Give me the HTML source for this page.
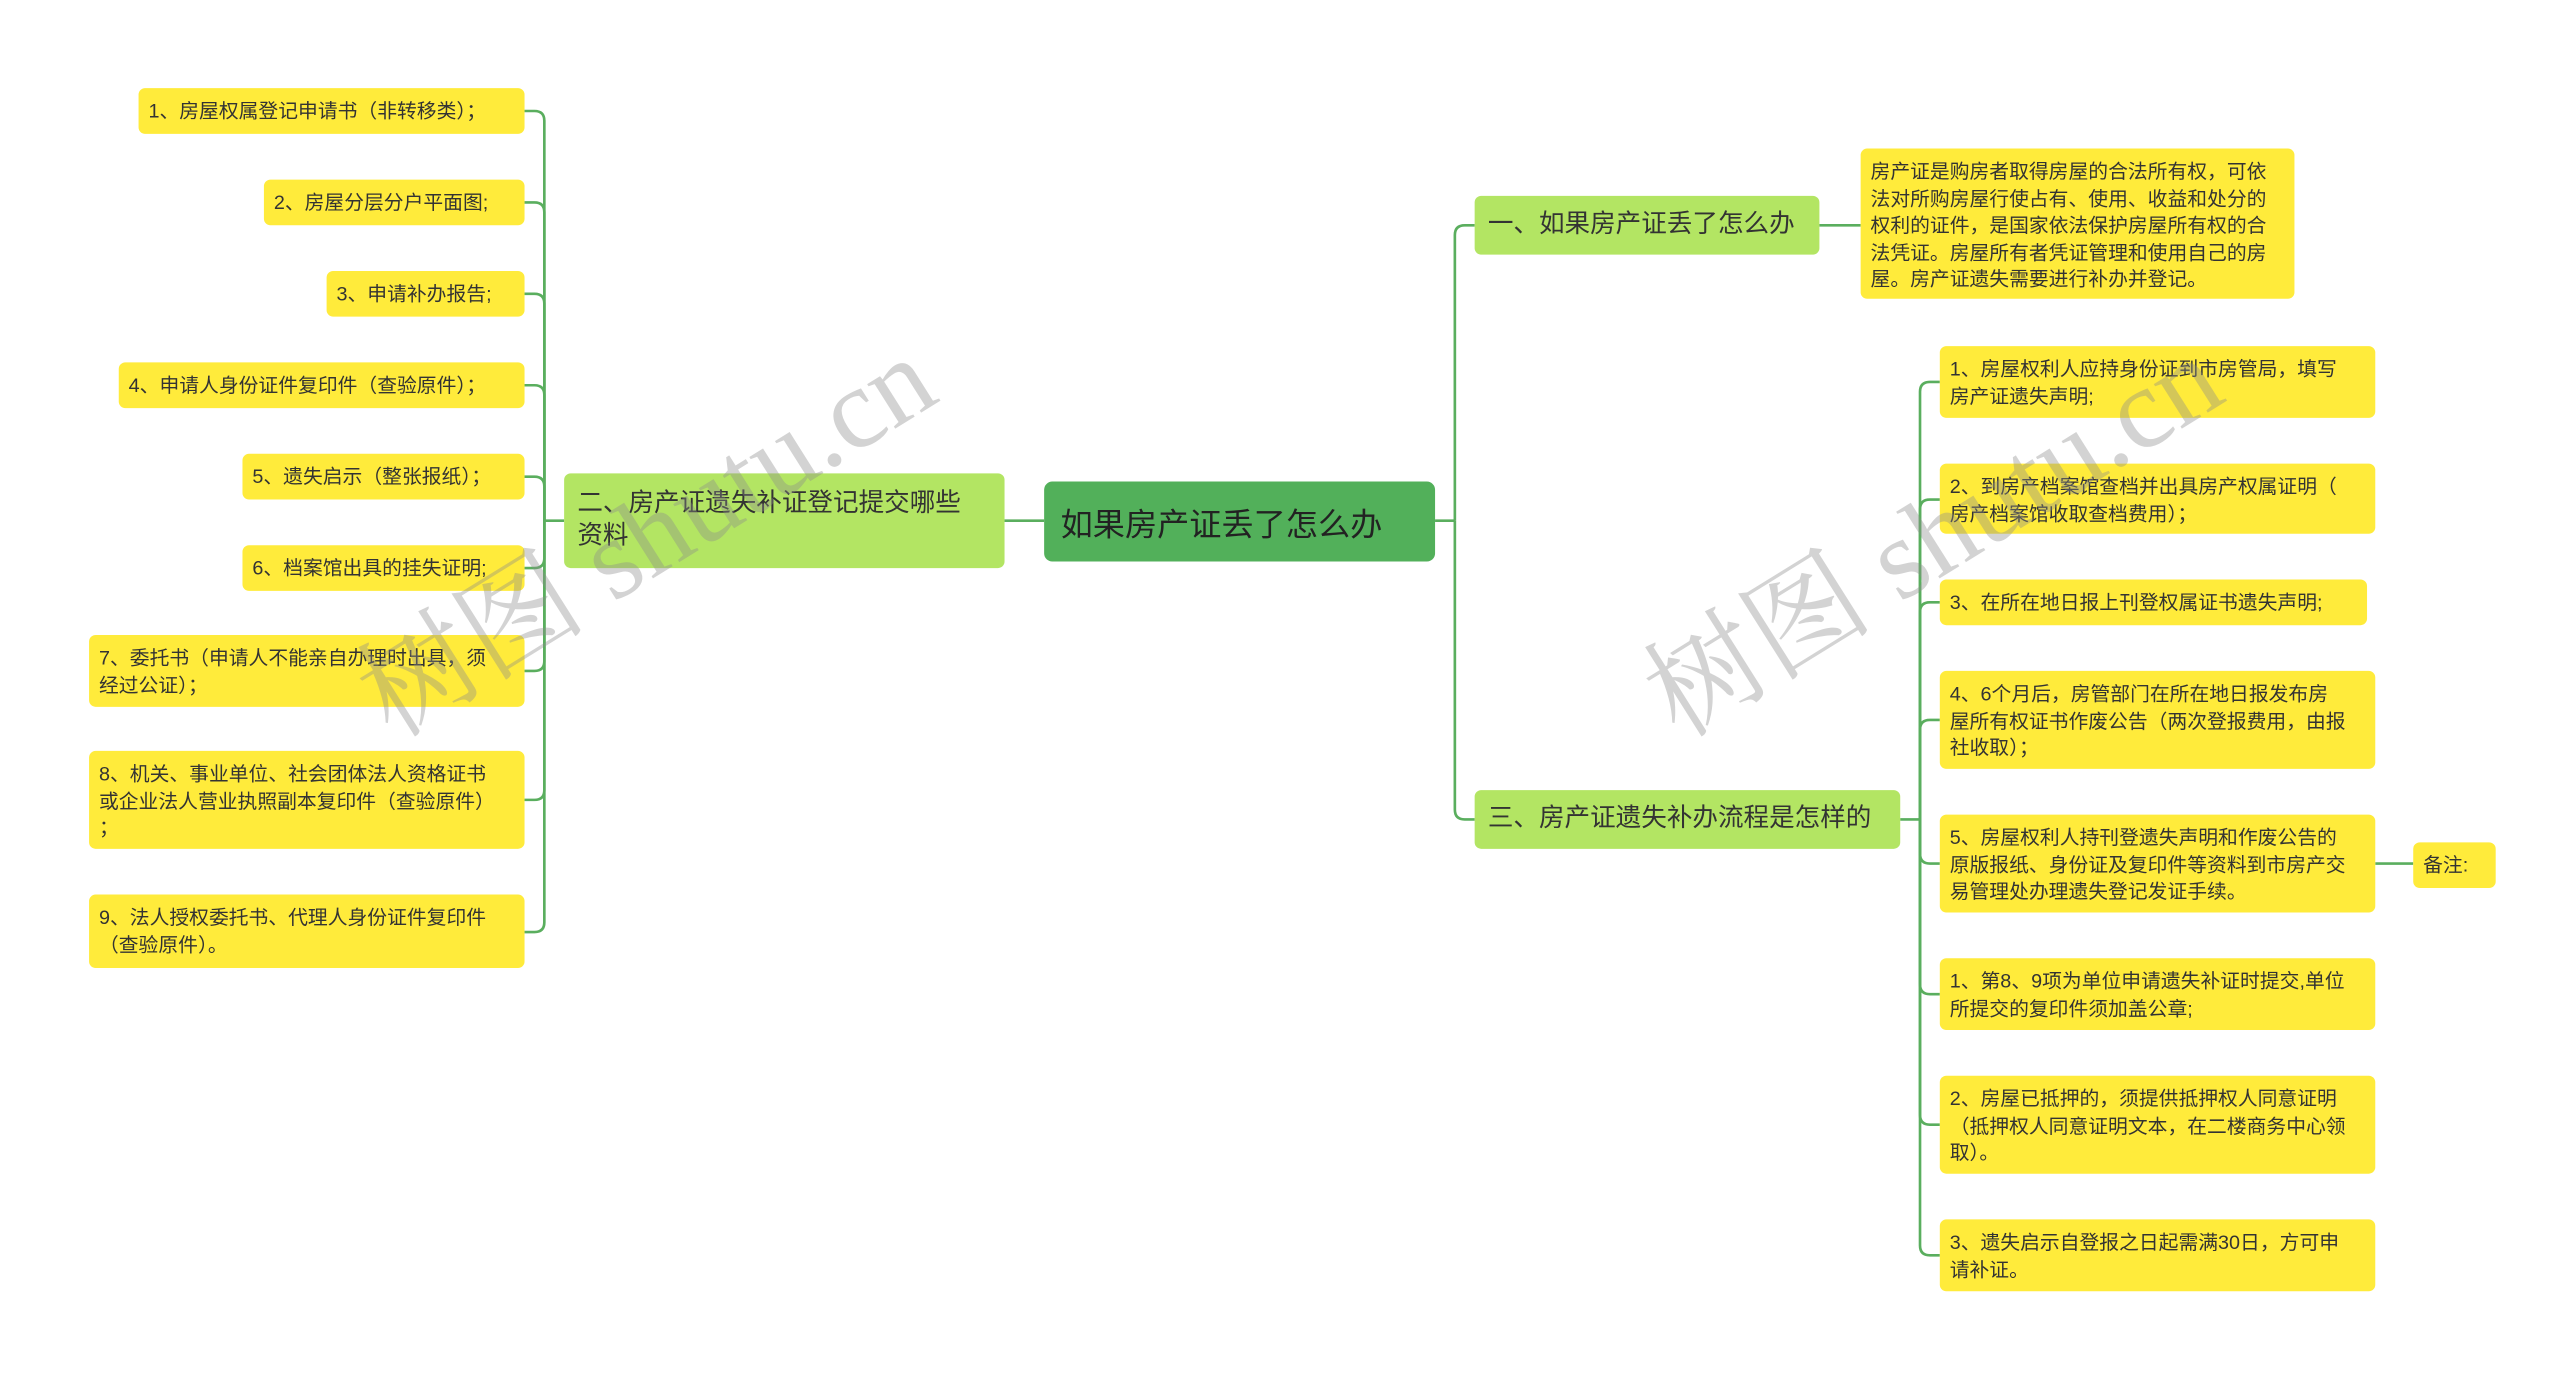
<!DOCTYPE html>
<html><head><meta charset="utf-8"><style>
html,body{margin:0;padding:0;background:#fff;overflow:hidden;width:2560px;height:1381px}
#clip{position:absolute;left:0;top:0;width:2560px;height:1381px;overflow:hidden}
#w{position:absolute;left:0;top:0;width:1552px;height:846px;overflow:hidden;transform-origin:0 0;transform:scale(1.6495,1.6324)}
.b{position:absolute;box-sizing:border-box;border-radius:4px;font-family:"Liberation Sans","Noto Sans CJK SC",sans-serif;color:#333;white-space:nowrap}
.y{background:#ffeb3b;font-size:12px;line-height:16.5px;padding:6px 6px}
.s{display:flex;align-items:center}
.g{background:#b3e563;font-size:15.5px;line-height:20px;padding:0 8px}
</style></head><body><div id="clip"><div id="w">
<svg width="1552" height="846" style="position:absolute;left:0;top:0" fill="none" stroke="#5aae5e" stroke-width="1.6">
<path d="M609,319 L633,319"/>
<g>
<path d="M342,319 L330,319"/>
<path d="M330,319 L330,74 Q330,68 324,68 L318,68"/>
<path d="M330,319 L330,130 Q330,124 324,124 L318,124"/>
<path d="M330,319 L330,186 Q330,180 324,180 L318,180"/>
<path d="M330,319 L330,242 Q330,236 324,236 L318,236"/>
<path d="M330,319 L330,298 Q330,292 324,292 L318,292"/>
<path d="M330,319 L330,342 Q330,348 324,348 L318,348"/>
<path d="M330,319 L330,405 Q330,411 324,411 L318,411"/>
<path d="M330,319 L330,484 Q330,490 324,490 L318,490"/>
<path d="M330,319 L330,565 Q330,571 324,571 L318,571"/>
</g>
<path d="M870,319 L882,319"/>
<path d="M882,319 L882,144 Q882,138 888,138 L894,138"/>
<path d="M882,319 L882,496 Q882,502 888,502 L894,502"/>
<path d="M1103,138 L1128,138"/>
<path d="M1152,502 L1164,502"/>
<path d="M1164,502 L1164,240 Q1164,234 1170,234 L1176,234"/>
<path d="M1164,502 L1164,312 Q1164,306 1170,306 L1176,306"/>
<path d="M1164,502 L1164,375 Q1164,369 1170,369 L1176,369"/>
<path d="M1164,502 L1164,447 Q1164,441 1170,441 L1176,441"/>
<path d="M1164,502 L1164,523 Q1164,529 1170,529 L1176,529"/>
<path d="M1164,502 L1164,603 Q1164,609 1170,609 L1176,609"/>
<path d="M1164,502 L1164,683 Q1164,689 1170,689 L1176,689"/>
<path d="M1164,502 L1164,763 Q1164,769 1170,769 L1176,769"/>
<path d="M1440,529 L1463,529"/>
</svg>

<div class="b s" style="left:633px;top:295px;width:237px;height:49px;background:#52b05a;color:#222;font-size:19.5px;padding-left:10px;border-radius:5px">如果房产证丢了怎么办</div>
<div class="b g s" style="left:342px;top:290px;width:267px;height:58px">二、房产证遗失补证登记提交哪些<br>资料</div>
<div class="b g s" style="left:894px;top:120px;width:209px;height:36px">一、如果房产证丢了怎么办</div>
<div class="b g s" style="left:894px;top:484px;width:258px;height:36px">三、房产证遗失补办流程是怎样的</div>

<div class="b y s" style="left:84px;top:54px;width:234px;height:28px">1、房屋权属登记申请书（非转移类）；</div>
<div class="b y s" style="left:160px;top:110px;width:158px;height:28px">2、房屋分层分户平面图;</div>
<div class="b y s" style="left:198px;top:166px;width:120px;height:28px">3、申请补办报告;</div>
<div class="b y s" style="left:72px;top:222px;width:246px;height:28px">4、申请人身份证件复印件（查验原件）；</div>
<div class="b y s" style="left:147px;top:278px;width:171px;height:28px">5、遗失启示（整张报纸）；</div>
<div class="b y s" style="left:147px;top:334px;width:171px;height:28px">6、档案馆出具的挂失证明;</div>
<div class="b y" style="left:54px;top:389px;width:264px;height:44px">7、委托书（申请人不能亲自办理时出具，须<br>经过公证）；</div>
<div class="b y" style="left:54px;top:460px;width:264px;height:60px">8、机关、事业单位、社会团体法人资格证书<br>或企业法人营业执照副本复印件（查验原件）<br>；</div>
<div class="b y" style="left:54px;top:548px;width:264px;height:45px">9、法人授权委托书、代理人身份证件复印件<br>（查验原件）。</div>

<div class="b y" style="left:1128px;top:91px;width:263px;height:92px">房产证是购房者取得房屋的合法所有权，可依<br>法对所购房屋行使占有、使用、收益和处分的<br>权利的证件，是国家依法保护房屋所有权的合<br>法凭证。房屋所有者凭证管理和使用自己的房<br>屋。房产证遗失需要进行补办并登记。</div>

<div class="b y" style="left:1176px;top:212px;width:264px;height:44px">1、房屋权利人应持身份证到市房管局，填写<br>房产证遗失声明;</div>
<div class="b y" style="left:1176px;top:284px;width:264px;height:43px">2、到房产档案馆查档并出具房产权属证明（<br>房产档案馆收取查档费用）；</div>
<div class="b y s" style="left:1176px;top:355px;width:259px;height:28px">3、在所在地日报上刊登权属证书遗失声明;</div>
<div class="b y" style="left:1176px;top:411px;width:264px;height:60px">4、6个月后，房管部门在所在地日报发布房<br>屋所有权证书作废公告（两次登报费用，由报<br>社收取）；</div>
<div class="b y" style="left:1176px;top:499px;width:264px;height:60px">5、房屋权利人持刊登遗失声明和作废公告的<br>原版报纸、身份证及复印件等资料到市房产交<br>易管理处办理遗失登记发证手续。</div>
<div class="b y s" style="left:1463px;top:516px;width:50px;height:28px">备注:</div>
<div class="b y" style="left:1176px;top:587px;width:264px;height:44px">1、第8、9项为单位申请遗失补证时提交,单位<br>所提交的复印件须加盖公章;</div>
<div class="b y" style="left:1176px;top:659px;width:264px;height:60px">2、房屋已抵押的，须提供抵押权人同意证明<br>（抵押权人同意证明文本，在二楼商务中心领<br>取）。</div>
<div class="b y" style="left:1176px;top:747px;width:264px;height:44px">3、遗失启示自登报之日起需满30日，方可申<br>请补证。</div>

<svg width="1552" height="846" style="position:absolute;left:0;top:0;overflow:hidden" font-family="Liberation Serif, Noto Serif CJK SC, serif" font-size="70" fill="rgba(140,140,140,0.38)">
<text transform="translate(238,453) rotate(-32)">树图 shutu.cn</text>
<text transform="translate(1018,453) rotate(-32)">树图 shutu.cn</text>
</svg>
</div></div></body></html>
